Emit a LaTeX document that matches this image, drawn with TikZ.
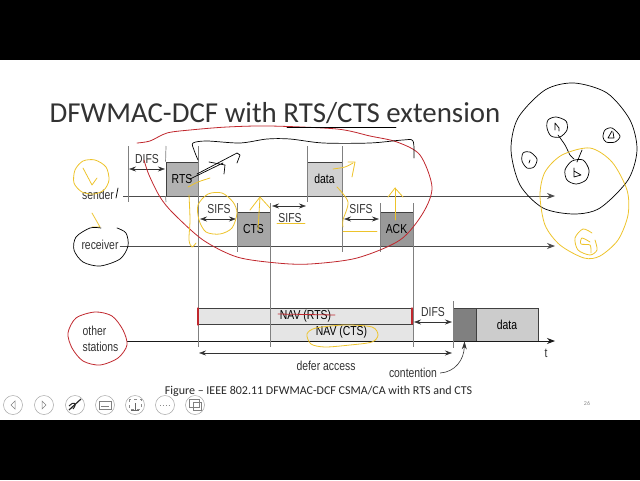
\documentclass[tikz,border=0pt]{standalone}
\usepackage{fontspec}
\setmainfont{Carlito}
\newfontfamily\labelfont[FakeStretch=0.8]{Liberation Sans}
\usetikzlibrary{arrows.meta, positioning}
\definecolor{inkred}{HTML}{C0272D}
\definecolor{inkyellow}{HTML}{EDC32B}
\tikzset{
  frame/.style={draw=black!75, line width=0.9pt, font=\labelfont\fontsize{13}{13}\selectfont, inner sep=0pt},
  label/.style={font=\labelfont\fontsize{13}{13}\selectfont, text=black!80, inner sep=0pt},
  axis/.style={draw=black!70, line width=0.8pt, -{Stealth[length=8pt,width=6pt]}},
  tick/.style={draw=black!50, line width=0.7pt},
  span/.style={draw=black!80, line width=0.6pt, {Stealth[length=7pt,width=5pt]}-{Stealth[length=7pt,width=5pt]}},
  redink/.style={draw=inkred, line width=0.8pt, line cap=round, line join=round},
  yellowink/.style={draw=inkyellow, line width=0.8pt, line cap=round, line join=round},
  blackink/.style={draw=black, line width=0.7pt, line cap=round, line join=round},
  toolicon/.style={circle, draw=black!35, line width=0.5pt, minimum size=19pt, inner sep=0pt}
}
\begin{document}
\begin{tikzpicture}[x=1pt, y=-1pt]
  \useasboundingbox (0,0) rectangle (640,480);
  % slide and black bands
  \fill[black] (0,0) rectangle (640,60);
  \fill[black] (0,420) rectangle (640,480);
  \node[font=\fontsize{28.9}{29}\selectfont, text=black!80, inner sep=0pt] (title) at (275,113) {DFWMAC-DCF with RTS/CTS extension};
  \node[font=\fontsize{12}{12}\selectfont, text=black!85, inner sep=0pt] (caption) at (318.5,391) {Figure -- IEEE 802.11 DFWMAC-DCF CSMA/CA with RTS and CTS};
  \node[font=\fontsize{6}{6}\selectfont, text=black!45, inner sep=0pt] (pageno) at (587,403) {26};

  % boxes
  \node[frame, fill=black!30, minimum width=32pt, minimum height=34pt] (rts) at (182,179) {RTS};
  \node[frame, fill=black!35, minimum width=33pt, minimum height=34pt] (cts) at (253.5,229) {CTS};
  \node[frame, fill=black!18, minimum width=35pt, minimum height=34pt] (data) at (324.5,179) {data};
  \node[frame, fill=black!40, minimum width=33pt, minimum height=34pt] (ack) at (396.5,229) {ACK};
  \node[frame, fill=black!10, minimum width=215pt, minimum height=16pt] (navrts) at (305.5,316) {NAV (RTS)};
  \node[frame, fill=black!10, minimum width=143pt, minimum height=17pt] (navcts) at (341.5,332.5) {NAV (CTS)};
  \node[frame, fill=black!50, minimum width=23pt, minimum height=33pt] (slot) at (464.5,324.5) {};
  \node[frame, fill=black!20, minimum width=62pt, minimum height=33pt] (odata) at (507,324.5) {data};

  % stations and time lines
  \node[label] (sender) at (98,195) {sender};
  \node[label] (receiver) at (100,245) {receiver};
  \node[label, align=left] (other) at (100.5,339) {other\\[3pt]stations};
  \coordinate (sendend) at (555,196);
  \coordinate (recvend) at (555,246);
  \coordinate (othend) at (555,341);
  \draw[axis] (123,196) -- (sendend);
  \draw[axis] (receiver.east) ++(1,1) -- (recvend);
  \draw[axis, draw=black!90] (127,341) -- (othend);
  \node[label] (tlabel) at (546,353) {t};

  % time marks
  \draw[tick] (128,146) -- (128,202);
  \draw[tick] (166,146) -- (rts.north west);
  \draw[tick] (rts.south west) -- (166,202);
  \draw[tick] (198,146) -- (198,347);
  \draw[tick] (237,203) -- (237,252);
  \draw[tick] (270,203) -- (270,347);
  \draw[tick] (307,146) -- (307,202);
  \draw[tick] (342,146) -- (342,252);
  \draw[tick] (380,203) -- (380,252);
  \draw[tick] (413,203) -- (413,347);
  \draw[tick] (453,301) -- (453,348);

  % intervals
  \coordinate (difsa) at (129,169);  \coordinate (difsb) at (165,169);
  \coordinate (sifsa) at (200,219);  \coordinate (sifsb) at (236,219);
  \coordinate (sifsc) at (272,206);  \coordinate (sifsd) at (306,206);
  \coordinate (sifse) at (344,219);  \coordinate (sifsf) at (379,219);
  \coordinate (difsc) at (414,322);  \coordinate (difsd) at (452,322);
  \coordinate (defera) at (199,353); \coordinate (deferb) at (452,353);
  \draw[span] (difsa) -- (difsb);
  \draw[span] (sifsa) -- (sifsb);
  \draw[span] (sifsc) -- (sifsd);
  \draw[span] (sifse) -- (sifsf);
  \draw[span] (difsc) -- (difsd);
  \draw[span] (defera) -- (deferb);
  \node[label] (difs1) at (147,159) {DIFS};
  \node[label] (sifs1) at (219,209) {SIFS};
  \node[label] (sifs2) at (290,218) {SIFS};
  \node[label] (sifs3) at (361,209) {SIFS};
  \node[label] (difs2) at (433,312) {DIFS};
  \node[label] (defer) at (326,366) {defer access};
  \node[label] (contention) at (413,373) {contention};
  \draw[draw=black!80, line width=0.6pt, -{Stealth[length=8pt,width=5pt]}] (contention.east) ++(3,0) .. controls (455,372) and (464,360) .. (slot.south);

  % toolbar
  \node[toolicon] (prev) at (13,405) {};
  \node[toolicon] (next) at (44,405) {};
  \node[toolicon] (pen) at (75,405) {};
  \node[toolicon] (subs) at (105,405) {};
  \node[toolicon] (point) at (135,405) {};
  \node[toolicon] (more) at (165,405) {};
  \node[toolicon] (present) at (195,405) {};
  \draw[black!50, line width=0.5pt] (15,401) -- (11,405) -- (15,409) -- cycle;
  \draw[black!50, line width=0.5pt] (42,401) -- (46,405) -- (42,409) -- cycle;
  \draw[black!85, line width=1.2pt] (69,410) -- (81,399);
  \draw[black!85, line width=1pt] (69,406) .. controls (73,401) and (78,403) .. (73,409);
  \draw[black!50, line width=0.5pt] (99,401) rectangle (111,409);
  \draw[black!50, line width=0.5pt] (101,406) -- (109,406);
  \draw[black!45, line width=0.5pt, dashed] (129,399) rectangle (141,409);
  \draw[black!60, line width=0.6pt] (131,410) -- (139,410) (135,403) -- (135,410);
  \draw[black!45, line width=0.9pt, dotted] (160,405) -- (170,405);
  \draw[black!50, line width=0.7pt] (189,399) rectangle (199,407);
  \draw[black!50, line width=0.7pt] (193,402) rectangle (201,410);

  % pen strokes: circled stations
  \draw[yellowink] plot[smooth cycle] coordinates {(75,170) (83,161) (95,160) (106,167) (109,180) (104,190) (94,194) (82,192) (74,183)};
  \draw[yellowink] (83,168) -- (92,185) -- (97,178);
  \draw[yellowink] (92,213) -- (100,227) -- (92,227);
  \draw[blackink] plot[smooth] coordinates {(117,228) (126,233) (128,246) (120,259) (100,266) (83,262) (74,250) (76,237) (90,228) (101,228)};
  \draw[redink] plot[smooth cycle] coordinates {(68,333) (76,318) (95,312) (112,316) (123,330) (127,345) (118,358) (100,365) (83,361) (72,348)};
  \draw[blackink] (116,198) -- (118,188);

  % pen strokes: red loop and strike
  \draw[redink] plot[smooth] coordinates {(137,143) (150,141) (167,133) (190,130) (227,127) (270,126) (337,129) (370,136) (397,142) (420,155) (432,187) (423,213) (400,240) (357,258) (310,264) (277,263) (237,257) (203,240) (173,213) (160,197) (149,175) (144,160)};
  \draw[redink] (278,314) -- (335,315);
  \draw[redink, line width=1.2pt] (198,308) -- (198,325);
  \draw[redink, line width=1.2pt] (412,308) -- (412,324);

  % pen strokes: title underline, black brace and arrows
  \draw[blackink] (287,127) -- (396,127);
  \draw[blackink] plot[smooth] coordinates {(198,160) (194,150) (193,143) (207,141) (240,143) (267,139) (290,139) (323,143) (370,143) (403,140) (413,141) (414,158)};
  \draw[blackink] (190,179) -- (223,163) (209,162) -- (225,165) -- (224,174);
  \draw[blackink] (197,174) -- (237,153) -- (240,155) -- (237,163);
  \draw[blackink] (395,205) -- (395,212);

  % pen strokes: yellow marks
  \draw[yellowink] plot[smooth cycle] coordinates {(198,205) (208,194) (222,193) (233,202) (237,213) (232,228) (220,234) (206,232) (199,220)};
  \draw[yellowink] plot[smooth] coordinates {(188,187) (198,182) (210,178)};
  \draw[yellowink] plot[smooth] coordinates {(189,195) (190,220) (189,240) (192,247) (196,243)};
  \draw[yellowink] (258,230) -- (260,197);
  \draw[yellowink] (250,210) -- (260,197) -- (270,208);
  \draw[yellowink] (277,223) -- (305,223);
  \draw[yellowink] plot[smooth] coordinates {(333,169) (345,167) (353,163)};
  \draw[yellowink] (348,162) -- (355,162) -- (352,177);
  \draw[yellowink] plot[smooth] coordinates {(337,187) (348,202) (343,220) (343,227)};
  \draw[yellowink] (343,231) -- (377,231);
  \draw[yellowink] (395,220) -- (395,188);
  \draw[yellowink] (388,197) -- (395,188) -- (403,197);
  \draw[yellowink] plot[smooth cycle] coordinates {(307,334) (316,328) (345,325) (372,327) (378,335) (372,342) (350,345) (325,347) (311,344)};

  % pen strokes: network sketch
  \draw[blackink] plot[smooth cycle] coordinates {(511,150) (518,118) (545,90) (574,83) (607,93) (630,120) (637,150) (628,180) (600,208) (574,214) (543,208) (520,185)};
  \draw[blackink] plot[smooth cycle] coordinates {(548,120) (556,117) (566,121) (567,130) (560,137) (551,136) (547,128)};
  \draw[blackink] plot[smooth cycle] coordinates {(605,130) (612,128) (620,136) (615,142) (606,142) (603,137)};
  \draw[blackink] plot[smooth cycle] coordinates {(523,153) (530,152) (537,159) (534,167) (527,168) (522,161)};
  \draw[blackink] plot[smooth cycle] coordinates {(565,170) (572,161) (583,160) (589,170) (586,180) (576,184) (567,180)};
  \draw[blackink] (555,130) -- (555,123) (555,123) -- (559,128) -- (559,131);
  \draw[blackink] (612,131) -- (608,138) -- (614,138) -- (613,132);
  \draw[blackink] (530,160) -- (529,163);
  \draw[blackink] (574,168) -- (574,177) -- (581,175) -- (574,171);
  \draw[blackink] plot[smooth] coordinates {(558,135) (565,145) (570,155) (574,159)};
  \draw[blackink] (582,150) -- (577,162);
  \draw[yellowink] plot[smooth cycle] coordinates {(540,195) (545,172) (562,155) (590,148) (612,162) (627,190) (628,215) (618,240) (600,256) (584,258) (560,245) (545,225)};
  \draw[yellowink] plot[smooth] coordinates {(592,233) (583,229) (575,238) (578,250) (590,255) (597,250) (595,240)};
  \draw[yellowink] plot[smooth] coordinates {(590,242) (582,238) (581,244) (590,245) (591,253)};
\end{tikzpicture}
\end{document}
